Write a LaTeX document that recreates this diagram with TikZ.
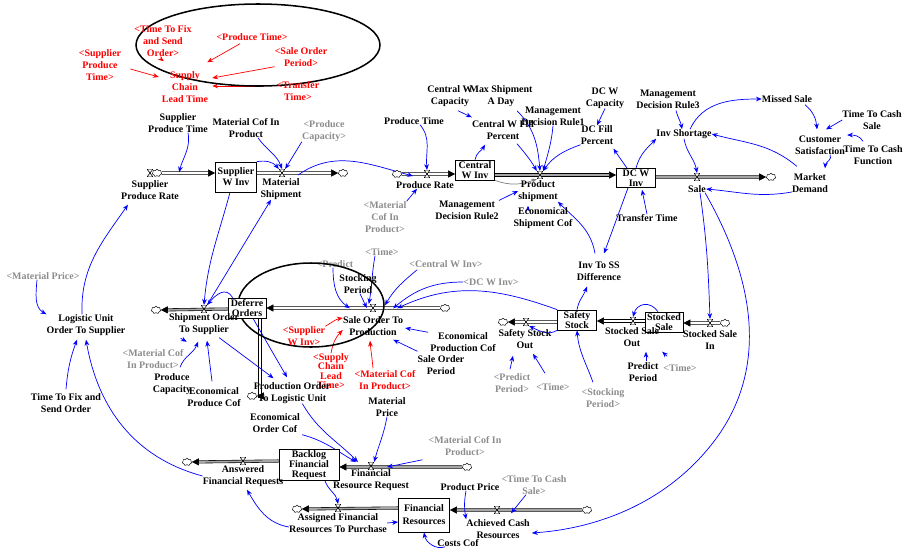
\documentclass[tikz,border=0pt]{standalone}
\usepackage{fontspec}
\setmainfont{Liberation Serif}
\usetikzlibrary{arrows.meta,calc,backgrounds,shapes.symbols}

\definecolor{linkblue}{RGB}{0,0,255}
\definecolor{shadowgray}{RGB}{140,140,140}

\tikzset{
  lbl/.style={font=\bfseries\fontsize{8.5}{10.2}\selectfont, align=center, inner sep=0pt},
  shadow/.style={lbl, text=shadowgray},
  redlbl/.style={lbl, text=red},
  stock/.style={draw, fill=white, line width=0.6pt, inner sep=0pt, align=center,
    font=\bfseries\fontsize{8.5}{8.3}\selectfont},
  cloudy/.style={cloud, cloud puffs=7, aspect=1.3, draw, fill=white, line width=0.4pt,
    minimum width=8pt, minimum height=6.5pt, inner sep=0pt},
  valve/.style={minimum width=5pt, minimum height=6.5pt, inner sep=0pt,
    path picture={\filldraw[fill=white, line width=0.5pt]
      (path picture bounding box.north west) -- (path picture bounding box.north east)
      -- (path picture bounding box.south west) -- (path picture bounding box.south east) -- cycle;}},
  link/.style={linkblue, line width=0.6pt, -{Stealth[length=5pt,width=4pt]}},
  redlink/.style={link, red},
  graylink/.style={link, gray},
  pipe/.style={line width=0.5pt, double=white, double distance=1.6pt, -{Triangle[length=6pt,width=6pt]}},
  graypipe/.style={pipe, double=gray!70},
  ring/.style={line width=1.3pt}
}

\begin{document}
\begin{tikzpicture}[x=0.03cm,y=-0.03cm]
\useasboundingbox (0,0) rectangle (903,553);

% supply chain lead time cluster
\draw[ring] (258,45) ellipse [x radius=122, y radius=41];
\node[redlbl] (rFixTime) at (163,41) {<Time To Fix\\and Send\\Order>};
\node[redlbl] (rProdTime) at (252,37) {<Produce Time>};
\node[redlbl] (rSuppTime) at (100,65) {<Supplier\\Produce\\Time>};
\node[redlbl] (rSalePeriod) at (301,57) {<Sale Order\\Period>};
\node[redlbl] (rTransTime) at (298,91) {<Transfer\\Time>};
\node[redlbl] (leadTime) at (185,87) {Supply\\Chain\\Lead Time};

% upper chain
\node[lbl] (suppTime) at (178,123) {Supplier\\Produce Time};
\node[cloudy] (cl1) at (157,173) {};
\node[valve] (vSuppRate) at (150,173) {};
\node[lbl] (suppRate) at (150,190) {Supplier\\Produce Rate};
\node[stock, minimum width=1.23cm, minimum height=0.9cm, font=\bfseries\fontsize{8.5}{9.5}\selectfont] (suppInv) at (236,177) {Supplier\\W Inv};
\node[valve] (vMatShip) at (282,173) {};
\node[lbl] (matShip) at (281,189) {Material\\Shipment};
\node[cloudy] (cl2) at (343,173) {};
\node[lbl] (matCof) at (246,128) {Material Cof In\\Product};
\node[shadow] (gProdCap) at (324,131) {<Produce\\Capacity>};
\node[cloudy] (cl3) at (397,174) {};
\node[valve] (vProdRate) at (427,174) {};
\node[lbl] (prodRate) at (425,185) {Produce Rate};
\node[lbl] (prodTime) at (414,121) {Produce Time};
\node[shadow] (gMatCof1) at (385,217) {<Material\\Cof In\\Product>};
\node[stock, minimum width=1.17cm, minimum height=0.6cm] (centInv) at (475,170) {Central\\W Inv};
\node[valve] (vProdShip) at (540,175) {};
\node[lbl] (prodShip) at (538,191) {Product\\shipment};
\node[lbl] (centCap) at (450,96) {Central W\\Capacity};
\node[lbl] (maxShip) at (501,96) {Max Shipment\\A Day};
\node[lbl] (centFill) at (503,130) {Central W Fill\\Percent};
\node[lbl] (rule1) at (553,116) {Management\\Decision Rule1};
\node[lbl] (dcCap) at (605,98) {DC W\\Capacity};
\node[lbl] (dcFill) at (597,135) {DC Fill\\Percent};
\node[lbl] (rule2) at (467,210) {Management\\Decision Rule2};
\node[lbl] (econShip) at (543,218) {Economical\\Shipment Cof};
\node[stock, minimum width=1.17cm, minimum height=0.57cm] (dcInv) at (636,178) {DC W\\Inv};
\node[lbl] (rule3) at (668,99) {Management\\Decision Rule3};
\node[lbl] (invShort) at (684,134) {Inv Shortage};
\node[valve] (vSale) at (697,177) {};
\node[lbl] (sale) at (697,189) {Sale};
\node[cloudy] (cl4) at (771,177) {};
\node[lbl] (missed) at (787,99) {Missed Sale};
\node[lbl] (cashSale) at (872,120) {Time To Cash\\Sale};
\node[lbl] (custSat) at (820,145) {Customer\\Satisfaction};
\node[lbl] (cashFunc) at (873,155) {Time To Cash\\Function};
\node[lbl] (demand) at (810,183) {Market\\Demand};
\node[lbl] (transTime) at (647,218) {Transfer Time};
\node[lbl] (ssDiff) at (599,271) {Inv To SS\\Difference};

% safety stock part
\node[stock, minimum width=1.17cm, minimum height=0.6cm] (safety) at (577,320) {Safety\\Stock};
\node[stock, minimum width=1.14cm, minimum height=0.6cm] (stocked) at (664,322) {Stocked\\Sale};
\node[cloudy] (cl5) at (725,323) {};
\node[valve] (vStIn) at (710,323) {};
\node[lbl] (stIn) at (710,340) {Stocked Sale\\In};
\node[valve] (vStOut) at (633,321) {};
\node[lbl] (stOut) at (632,337) {Stocked Sale\\Out};
\node[lbl] (predict) at (643,372) {Predict\\Period};
\node[shadow] (gTimeA) at (680,368) {<Time>};
\node[cloudy] (cl6) at (503,322) {};
\node[valve] (vSafeOut) at (526,322) {};
\node[lbl] (safeOut) at (525,339) {Safety Stock\\Out};
\node[shadow] (gPredict) at (512,383) {<Predict\\Period>};
\node[shadow] (gTimeB) at (553,387) {<Time>};
\node[shadow] (gStock) at (603,398) {<Stocking\\Period>};

% sale order part
\node[shadow] (gDcInv) at (491,282) {<DC W Inv>};
\node[shadow] (gCentInv) at (446,264) {<Central W Inv>};
\node[shadow] (gTimeC) at (382,252) {<Time>};
\node[shadow] (gPredict2) at (335,264) {<Predict};
\node[lbl] (stockPer) at (358,284) {Stocking\\Period};
\draw[ring] (311,305) ellipse [x radius=73, y radius=42];
\node[cloudy] (cl7) at (445,308) {};
\node[valve] (vSaleOrd) at (373,308) {};
\node[lbl] (saleOrd) at (373,326) {Sale Order To\\Production};
\node[lbl] (econProd) at (463,342) {Economical\\Production Cof};
\node[lbl] (salePer) at (441,365) {Sale Order\\Period};
\node[redlbl] (rSuppInv) at (304,336) {<Supplier\\W Inv>};
\node[redlbl, font=\bfseries\fontsize{8.5}{7.9}\selectfont] (rLead) at (331,371) {<Supply\\Chain\\Lead\\Time>};
\node[redlbl] (rMatCof) at (385,380) {<Material Cof\\In Product>};
\node[stock, minimum width=1.14cm, minimum height=0.6cm] (deferred) at (247,308) {Deferre\\Orders};
\node[cloudy] (cl8) at (156,310) {};
\node[valve] (vShipOrd) at (204,309) {};
\node[lbl] (shipOrd) at (204,324) {Shipment Order\\To Supplier};
\node[cloudy] (cl9) at (252,396) {};
\node[lbl] (prodOrd) at (292,393) {Production Order\\To Logistic Unit};
\node[shadow] (gMatCof2) at (153,359) {<Material Cof\\In Product>};
\node[lbl] (prodCap) at (172,384) {Produce\\Capacity};
\node[lbl] (econProduce) at (214,397) {Economical\\Produce Cof};
\node[lbl] (logistic) at (86,325) {Logistic Unit\\Order To Supplier};
\node[shadow] (gMatPrice) at (43,276) {<Material Price>};
\node[lbl] (fixTime) at (66,403) {Time To Fix and\\Send Order};

% financial part
\node[stock, minimum width=1.8cm, minimum height=0.93cm] (backlog) at (309,465) {Backlog\\Financial\\Request};
\node[cloudy] (cl10) at (467,467) {};
\node[valve] (vFinReq) at (371,466) {};
\node[lbl] (finReq) at (371,480) {Financial\\Resource Request};
\node[cloudy] (cl11) at (187,462) {};
\node[valve] (vAnswer) at (243,461) {};
\node[lbl] (answer) at (243,476) {Answered\\Financial Requests};
\node[lbl] (econOrd) at (275,423) {Economical\\Order Cof};
\node[lbl] (matPrice) at (387,407) {Material\\Price};
\node[shadow] (gMatCof3) at (465,446) {<Material Cof In\\Product>};
\node[stock, minimum width=1.53cm, minimum height=1.02cm, font=\bfseries\fontsize{8.5}{11}\selectfont] (finRes) at (424,515) {Financial\\Resources};
\node[cloudy] (cl12) at (587,510) {};
\node[valve] (vCash) at (497,510) {};
\node[lbl] (cash) at (498,529) {Achieved Cash\\Resources};
\node[lbl] (price) at (470,487) {Product Price};
\node[shadow] (gCashSale) at (534,485) {<Time To Cash\\Sale>};
\node[cloudy] (cl13) at (297,509) {};
\node[valve] (vAssign) at (338,508) {};
\node[lbl] (assign) at (338,523) {Assigned Financial\\Resources To Purchase};
\node[lbl] (costs) at (458,543) {Costs Cof};
\coordinate (saleBend) at (715,440);

\begin{scope}[on background layer]
% flows
\draw[pipe] (cl1) -- (cl1 -| suppInv.west);
\draw[pipe] (vMatShip -| suppInv.east) -- (cl2);
\draw[pipe] (cl3) -- (cl3 -| centInv.west);
\draw[graypipe] (vProdShip -| centInv.east) -- (vProdShip -| dcInv.west);
\draw[graypipe] (vSale -| dcInv.east) -- (cl4);
\draw[pipe] (cl5) -- (cl5 -| stocked.east);
\draw[pipe] (vStOut -| stocked.west) -- (vStOut -| safety.east);
\draw[pipe] (vSafeOut -| safety.west) -- (cl6);
\draw[pipe] (cl7) -- (cl7 -| deferred.east);
\draw[graypipe] (vShipOrd -| deferred.west) -- (cl8);
\draw[pipe] ($(deferred.south)+(13,0)$) |- (cl9);
\draw[graypipe] (cl10) -- (cl10 -| backlog.east);
\draw[graypipe] (vAnswer -| backlog.west) -- (cl11);
\draw[graypipe] (cl12) -- (cl12 -| finRes.east);
\draw[graypipe] (vAssign -| finRes.west) -- (cl13);

% red links
\draw[redlink] ($(rFixTime.south)+(0,4)$) -- ($(leadTime.north west)+(2,-10)$);
\draw[redlink] ($(rProdTime.south)+(-12,3)$) -- ($(leadTime.north east)+(-1,-9)$);
\draw[redlink] (rSalePeriod.south west) -- ($(leadTime.east)+(4,-9)$);
\draw[redlink] ($(rTransTime.west)+(-12,-5)$) -- ($(leadTime.east)+(4,-1)$);
\draw[redlink] ($(rSuppTime.east)+(9,4)$) -- ($(leadTime.west)+(-3,-10)$);

% upper links
\draw[link] ($(suppTime.south)+(10,0)$) to[out=-80,in=75] ($(suppRate.north east)+(0,-8)$);
\draw[link] ($(matCof.south)+(12,0)$) to[out=-55,in=110] (vMatShip.north);
\draw[link] (gProdCap.south west) -- (vMatShip.north east);
\draw[link] (suppInv.north east) to[out=10,in=130] (vMatShip.north west);
\draw[link] ($(vMatShip)+(16,2)$) to[out=35,in=165] ($(vProdRate)+(-14,2)$);
\draw[link] ($(prodTime.south)+(6,0)$) to[out=-50,in=95] (vProdRate.north);
\draw[link] (gMatCof1.north east) -- ($(prodRate.south)+(-8,0)$);
\draw[link] (centInv.north) to[out=80,in=-120] ($(centFill.south)+(-18,5)$);
\draw[link] ($(centCap.south)+(8,4)$) -- ($(centFill.north west)+(0,-3)$);
\draw[link] ($(maxShip.south)+(16,4)$) to[out=-45,in=95] (vProdShip.north);
\draw[link] (rule1.south) to[out=-95,in=75] (vProdShip.north east);
\draw[link] ($(centFill.south)+(14,4)$) to[out=-50,in=120] (vProdShip.north west);
\draw[link] (dcFill.south west) to[out=200,in=55] (vProdShip.north east);
\draw[link] (rule2.north east) -- (prodShip.west);
\draw[link] ($(econShip.north)+(-15,0)$) -- ($(prodShip.south)+(-10,4)$);
\draw[graylink] (centInv.south east) to[out=-20,in=200] (vProdShip.south west);
\draw[link] (dcCap.south) -- (dcFill.north);
\draw[link] ($(dcInv.north)+(-9,0)$) -- ($(dcFill.south east)+(0,4)$);
\draw[link] (dcInv.north) to[out=75,in=-135] (invShort.south west);
\draw[link] ($(rule3.south)+(8,2)$) to[out=-75,in=100] ($(invShort.north)+(-2,0)$);
\draw[link] (invShort.south) to[out=-80,in=100] (vSale.north);
\draw[link] ($(invShort.north)+(6,0)$) to[out=65,in=180] (missed.west);
\draw[link] ($(missed.south)+(18,2)$) to[out=-40,in=95] ($(custSat.north)+(-3,-6)$);
\draw[link] (cashSale.west) -- ($(custSat.north)+(6,-6)$);
\draw[link] ($(cashFunc.north)+(-10,-4)$) to[out=120,in=0] ($(custSat.east)+(2,-10)$);
\draw[link] ($(custSat.south)+(10,0)$) to[out=-60,in=85] ($(demand.north)+(15,-5)$);
\draw[link] ($(demand.north west)+(5,-7)$) to[out=140,in=-15] (invShort.east);
\draw[link] ($(demand.west)+(0,9)$) to[out=190,in=-5] (sale.east);
\draw[link] (transTime.north) -- ($(dcInv.south)+(6,2)$);
\draw[link] ($(dcInv.south)+(-8,0)$) -- ($(ssDiff.north)+(5,-8)$);
\draw[link] ($(ssDiff.north)+(-4,-8)$) to[out=100,in=-45] (prodShip.south east);
\draw[link] (safety.north) to[out=80,in=-110] ($(ssDiff.south)+(-12,6)$);
\draw[link] ($(sale.south)+(3,0)$) to[out=-82,in=92] (vStIn.north);
\draw[link] ($(sale.south)+(8,0)$) .. controls +(60,105) and +(45,-60) .. (saleBend)
  .. controls +(-45,60) and +(70,-5) .. ($(cash.east)+(2,4)$);

% safety stock links
\draw[link] ($(stocked.north)+(-6,0)$) to[out=125,in=75,looseness=1.4] (vStOut.north);
\draw[link] ($(predict.north)+(3,-1)$) -- ($(stOut.south)+(14,5)$);
\draw[link] ($(gTimeA.north west)+(4,-8)$) -- ($(stOut.south east)+(3,5)$);
\draw[link] ($(gPredict.north)+(-2,-4)$) -- ($(safeOut.south)+(-12,7)$);
\draw[link] ($(gTimeB.north)+(-8,-10)$) -- ($(safeOut.south)+(8,5)$);
\draw[link] ($(gStock.north)+(-10,-6)$) to[out=110,in=-85] (safety.south);
\draw[link] (safety.south west) to[out=-150,in=-25] (vSafeOut.south east);

% sale order links
\draw[link] (safety.north west) to[out=160,in=25] ($(saleOrd.north east)+(-6,-8)$);
\draw[link] (gDcInv.west) to[out=180,in=40] ($(saleOrd.north east)+(-10,-8)$);
\draw[link] ($(gCentInv.south west)+(8,2)$) to[out=-140,in=60] ($(saleOrd.north)+(12,-11)$);
\draw[link] ($(gTimeC.south)+(-7,0)$) to[out=-100,in=80] ($(vSaleOrd.north west)+(-1,0)$);
\draw[link] ($(stockPer.south)+(2,0)$) -- ($(vSaleOrd.west)+(-3,0)$);
\draw[link] ($(gPredict2.south)+(-2,0)$) to[out=-90,in=145] ($(saleOrd.north west)+(7,-8)$);
\draw[link] ($(econProd.north west)+(-2,0)$) -- ($(saleOrd.east)+(2,2)$);
\draw[link] ($(salePer.north west)+(0,-4)$) -- ($(saleOrd.south east)+(-10,4)$);
\draw[redlink] (rSuppInv.north east) to[out=30,in=190] ($(saleOrd.west)+(0,-8)$);
\draw[redlink] (rLead.north) to[out=80,in=-135] ($(saleOrd.west)+(0,4)$);
\draw[redlink] ($(rMatCof.north)+(-12,-2)$) to[out=95,in=-85] ($(saleOrd.south)+(-3,5)$);

% shipment order links
\draw[link] ($(suppInv.south)+(-6,0)$) to[out=-105,in=85] (vShipOrd.north);
\draw[link] (vShipOrd.north east) -- ($(matShip.south)+(-10,0)$);
\draw[link] ($(deferred.north west)+(5,0)$) to[out=120,in=50,looseness=1.3] (vShipOrd.north east);
\draw[link] ($(gMatCof2.north east)+(-3,-11)$) -- ($(shipOrd.south west)+(18,7)$);
\draw[link] ($(prodCap.north)+(8,-6)$) to[out=70,in=-110] ($(shipOrd.south)+(-6,7)$);
\draw[link] ($(econProduce.north)+(-2,-6)$) -- ($(shipOrd.south)+(3,6)$);
\draw[link] ($(shipOrd.south east)+(-20,3)$) -- ($(prodOrd.north west)+(20,-4)$);
\draw[link] ($(deferred.south)+(6,0)$) -- ($(prodOrd.north)+(-5,-5)$);
\draw[link] ($(gMatPrice.south)+(-6,0)$) to[out=-95,in=150] (logistic.north west);
\draw[link] ($(logistic.north)+(-4,0)$) to[out=92,in=-125] ($(suppRate.south west)+(7,5)$);
\draw[link] ($(fixTime.north)+(0,-4)$) to[out=85,in=-110] ($(logistic.south)+(-9,4)$);
\draw[link] (answer.west) to[out=165,in=-80] ($(logistic.south)+(0,4)$);

% financial links
\draw[link] ($(econOrd.south east)+(2,2)$) to[out=-15,in=150] ($(vFinReq)+(-15,-4)$);
\draw[link] ($(prodOrd.south east)+(-28,0)$) to[out=-60,in=135] ($(vFinReq)+(-13,-4)$);
\draw[link] (matPrice.south) to[out=-100,in=75] (vFinReq.north east);
\draw[link] ($(gMatCof3.south west)+(-6,4)$) -- ($(vFinReq)+(16,1)$);
\draw[link] ($(backlog.south)+(16,0)$) to[out=-70,in=100] (vAssign.north);
\draw[link] (assign.east) -- ($(finRes.west)+(0,7)$);
\draw[link] ($(assign.west)+(0,4)$) to[out=170,in=-60] ($(answer.south)+(4,3)$);
\draw[link] ($(price.south)+(-4,0)$) to[out=-100,in=100] (cash.north west);
\draw[link] ($(gCashSale.south)+(-8,0)$) -- ($(cash.north)+(13,-6)$);
\draw[link] ($(costs.south west)+(8,0)$) to[out=200,in=-80] (finRes.south);
\end{scope}
\end{tikzpicture}
\end{document}
